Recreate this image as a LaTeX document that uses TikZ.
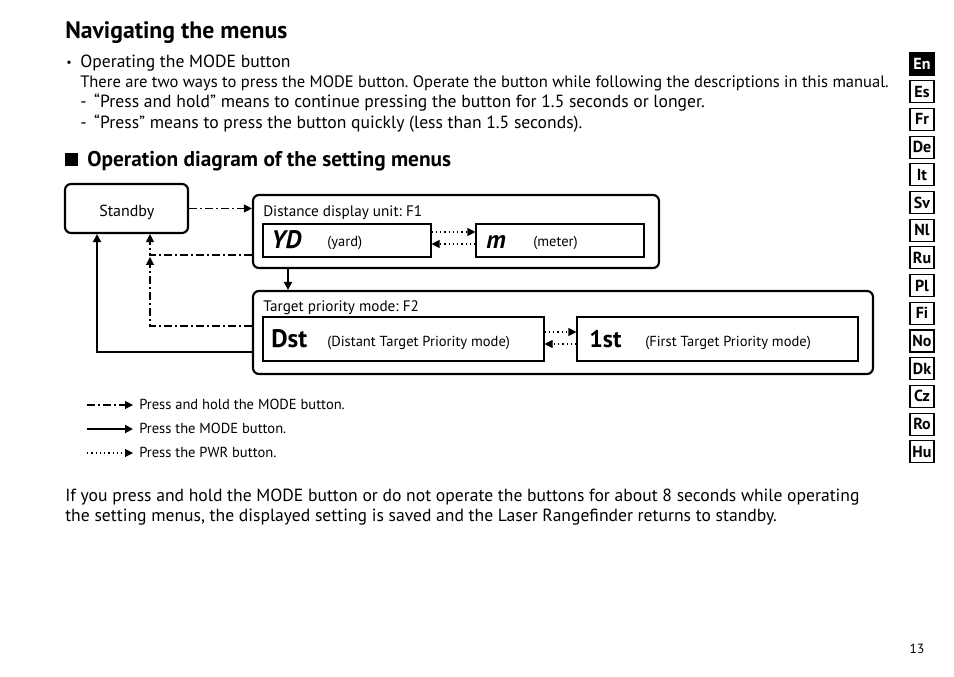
\documentclass[tikz,border=0pt]{standalone}
\usepackage{fontspec}
\setmainfont{PT Sans}
\usetikzlibrary{arrows.meta}
\begin{document}
\frenchspacing
\begin{tikzpicture}[x=0.75pt,y=-0.75pt,
  txt/.style={anchor=base west,inner sep=0pt,font=\fontsize{13.2}{15}\selectfont},
  lbl/.style={anchor=base west,inner sep=0pt,font=\fontsize{11.4}{13}\selectfont},
  small/.style={anchor=base west,inner sep=0pt,font=\fontsize{10.9}{12}\selectfont},
  big/.style={anchor=base west,inner sep=0pt,font=\fontsize{19}{21}\selectfont\bfseries},
  outerbox/.style={draw,line width=1.6pt,rounded corners=4.5pt,inner sep=0pt},
  innerbox/.style={draw,line width=0.8pt,inner sep=0pt},
  tip/.style={-{Triangle[length=6pt,width=6pt]}},
  hold/.style={tip,line width=0.8pt,dash pattern=on 6pt off 2.5pt on 1pt off 2.5pt},
  press/.style={tip,line width=1.6pt},
  pwr/.style={tip,line width=0.8pt,dash pattern=on 1pt off 2.2pt},
  tab/.style={draw,line width=0.8pt,inner sep=0pt,minimum width=24*0.75pt,minimum height=22*0.75pt,font=\fontsize{12}{13}\selectfont\bfseries}
]
\useasboundingbox (0,0) rectangle (954,677);
\fill[white] (0,0) rectangle (954,677);

% header text
\node[anchor=base west,inner sep=0pt,font=\fontsize{17.8}{20}\selectfont\bfseries] (title) at (65,39) {Navigating the menus};
\node[anchor=base west,inner sep=0pt,font=\fontsize{9}{10}\selectfont] (bul) at (66,67) {\textbullet};
\node[txt] (t1) at (80,68) {Operating the MODE button};
\node[txt,font=\fontsize{12.4}{14}\selectfont] (t2) at (80,88) {There are two ways to press the MODE button. Operate the button while following the descriptions in this manual.};
\node[txt] (t3) at (80,108) {-\, “Press and hold” means to continue pressing the button for 1.5 seconds or longer.};
\node[txt] (t4) at (80,129) {-\, “Press” means to press the button quickly (less than 1.5 seconds).};
\fill (65,153) rectangle (78,166);
\node[anchor=base west,inner sep=0pt,font=\fontsize{16}{18}\selectfont\bfseries] (sub) at (87,167) {Operation diagram of the setting menus};

% boxes
\node[outerbox,minimum width=123*0.75pt,minimum height=49*0.75pt] (standby) at (126.5,208.5) {};
\node[lbl,font=\fontsize{12}{13}\selectfont] (standbyt) at (99,217) {Standby};
\node[outerbox,minimum width=406*0.75pt,minimum height=73*0.75pt] (f1) at (456,231.5) {};
\node[lbl] (f1t) at (263,217) {Distance display unit: F1};
\node[innerbox,minimum width=168*0.75pt,minimum height=33*0.75pt] (yd) at (347,240.5) {};
\node[innerbox,minimum width=168*0.75pt,minimum height=33*0.75pt] (m) at (560,240.5) {};
\node[big,font=\fontsize{19}{21}\selectfont\bfseries\itshape] (ydt) at (271,249) {YD};
\node[small] (ydl) at (327,247) {(yard)};
\node[big,font=\fontsize{19}{21}\selectfont\bfseries\itshape] (mt) at (486,249) {m};
\node[small] (ml) at (533,247) {(meter)};

\node[outerbox,minimum width=620*0.75pt,minimum height=83*0.75pt] (f2) at (563,332.5) {};
\node[lbl] (f2t) at (263,312) {Target priority mode: F2};
\node[innerbox,minimum width=281*0.75pt,minimum height=44*0.75pt] (dst) at (403.5,339) {};
\node[innerbox,minimum width=281*0.75pt,minimum height=44*0.75pt] (first) at (717.5,339) {};
\node[big] (dstt) at (271,348) {Dst};
\node[small] (dstl) at (327,347) {(Distant Target Priority mode)};
\node[big,font=\fontsize{18}{20}\selectfont\bfseries] (firstt) at (589,348) {1st};
\node[small] (firstl) at (645,347) {(First Target Priority mode)};

% connectors
\draw[hold] (standby.east) -- (standby.east -| f1.west);
\coordinate (c1) at (288,0);
\draw[press] (c1 |- f1.south) -- (c1 |- f2.north);
\coordinate (h1) at (150,255);
\coordinate (h1b) at (150,257);
\coordinate (h2) at (150,326);
\draw[hold] (h1 -| f1.west) -| (standby.south -| h1);
\draw[hold] (h2 -| f2.west) -| (h1b);
\coordinate (p1) at (97,352);
\draw[press] (p1 -| f2.west) -| (standby.south -| p1);
\coordinate (d1) at (0,232);
\coordinate (d2) at (0,244);
\coordinate (d3) at (0,332);
\coordinate (d4) at (0,344);
\draw[pwr] (yd.east |- d1) -- (m.west |- d1);
\draw[pwr] (m.west |- d2) -- (yd.east |- d2);
\draw[pwr] (dst.east |- d3) -- (first.west |- d3);
\draw[pwr] (first.west |- d4) -- (dst.east |- d4);

% legend
\coordinate (l1a) at (87,405); \coordinate (l1b) at (133,405);
\coordinate (l2a) at (87,429); \coordinate (l2b) at (133,429);
\coordinate (l3a) at (87,453); \coordinate (l3b) at (133,453);
\draw[hold] (l1a) -- (l1b);
\draw[press] (l2a) -- (l2b);
\draw[pwr] (l3a) -- (l3b);
\node[small] (lg1) at (139,410) {Press and hold the MODE button.};
\node[small] (lg2) at (139,434) {Press the MODE button.};
\node[small] (lg3) at (139,458) {Press the PWR button.};

% bottom paragraph
\node[txt] (b1) at (65,501) {If you press and hold the MODE button or do not operate the buttons for about 8 seconds while operating};
\node[txt] (b2) at (65,522) {the setting menus, the displayed setting is saved and the Laser Rangefinder returns to standby.};

% language tabs
\foreach \t [count=\i] in {En,Es,Fr,De,It,Sv,Nl,Ru,Pl,Fi,No,Dk,Cz,Ro,Hu}{
  \ifnum\i=1
    \node[tab,fill=black,text=white] (tab\i) at (922,{64+(\i-1)*27.7}) {\t};
  \else
    \node[tab] (tab\i) at (922,{64+(\i-1)*27.7}) {\t};
  \fi
}
\node[anchor=base,inner sep=0pt,font=\fontsize{10}{11}\selectfont] (pg) at (917,653) {13};
\end{tikzpicture}
\end{document}
